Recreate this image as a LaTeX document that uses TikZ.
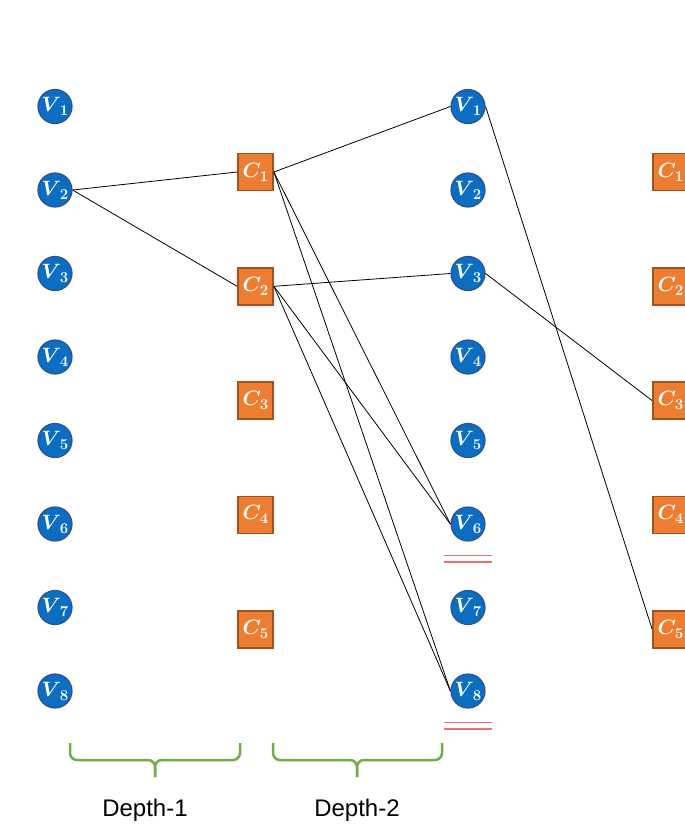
\documentclass[tikz,border=0pt]{standalone}
\usepackage{fontspec}
\newfontfamily\labelfont{Liberation Sans}
\usepackage{amsmath}
\usetikzlibrary{positioning}
\definecolor{varblue}{HTML}{0B6EC2}
\definecolor{varborder}{HTML}{2F528F}
\definecolor{clauseorange}{HTML}{ED7D31}
\definecolor{clauseborder}{HTML}{A5501F}
\definecolor{bracegreen}{HTML}{70AD47}
\definecolor{markred}{HTML}{F07070}
\newcommand{\nodelabel}[2]{\makebox[0pt][c]{\smash{\raisebox{-5pt}{$#1$\kern-1pt\raisebox{-4pt}{\fontsize{15}{15}\selectfont\bfseries #2}}}}}
\tikzset{
	x=1pt, y=-1pt,
	var/.style= {
		circle,
		fill=varblue,
		draw=varborder,
		line width=1.2pt,
		minimum size=34pt,
		inner sep=0,
		text=white,
		font=\fontsize{21}{22}\selectfont\boldmath
	},
	clause/.style= {
		rectangle,
		fill=clauseorange,
		draw=clauseborder,
		line width=1.8pt,
		minimum width=35pt,
		minimum height=37pt,
		inner sep=0,
		text=white,
		font=\fontsize{21}{22}\selectfont\boldmath
	},
	edge/.style={black, line width=0.8pt},
	depthbrace/.style={bracegreen, line width=2.5pt, rounded corners=7pt},
	depthlabel/.style={font={\labelfont\fontsize{24}{26}\selectfont}, anchor=base},
	redmark/.style={markred, line width=1.3pt},
}

\begin{document}
\begin{tikzpicture}
		\useasboundingbox (0,0) rectangle (685,839);
		
		% variables and clauses
		\foreach \i in {1,...,8} {
			\node (lv\i) [var] at (55, {106.5+83.5*(\i-1)}) {\nodelabel{V}{\i}};
			\node (rv\i) [var] at (468, {106.5+83.5*(\i-1)}) {\nodelabel{V}{\i}};
		}
		\foreach \i in {1,...,5} {
			\node (c\i) [clause] at (255.5, {172+114.3*(\i-1)}) {\nodelabel{C}{\i}};
			\node (rc\i) [clause] at (670.5, {172+114.3*(\i-1)}) {\nodelabel{C}{\i}};
		}
		
		% connections
		\draw[edge] (lv2.east) -- (c1.west);
		\draw[edge] (lv2.east) -- (c2.west);
		\foreach \a/\b in {c1/rv1, c1/rv6, c1/rv8, c2/rv3, c2/rv6, c2/rv8, rv1/rc5, rv3/rc3}
			\draw[edge] (\a.east) -- (\b.west);
		
		% marks under V6 and V8
		\foreach \v in {rv6, rv8} {
			\coordinate (\v mark) at ([yshift=-14pt]\v.south);
			\draw[redmark] ([xshift=-24pt]\v mark) -- ([xshift=24pt]\v mark);
			\draw[redmark] ([xshift=-24pt,yshift=-6.5pt]\v mark) -- ([xshift=24pt,yshift=-6.5pt]\v mark);
		}
		
		% depth braces
		\coordinate (depthone) at (155,760);
		\coordinate (depthtwo) at (357,760);
		\draw[depthbrace] (70,743) |- (depthone) -- ++(0,17);
		\draw[depthbrace] (240,743) |- (depthone) -- ++(0,17);
		\draw[depthbrace] (273,743) |- (depthtwo) -- ++(0,17);
		\draw[depthbrace] (442,743) |- (depthtwo) -- ++(0,17);
		
		\node (depthonelabel) [depthlabel] at (145,816) {Depth-1};
		\node (depthtwolabel) [depthlabel] at (357,816) {Depth-2};
\end{tikzpicture}
\end{document}
